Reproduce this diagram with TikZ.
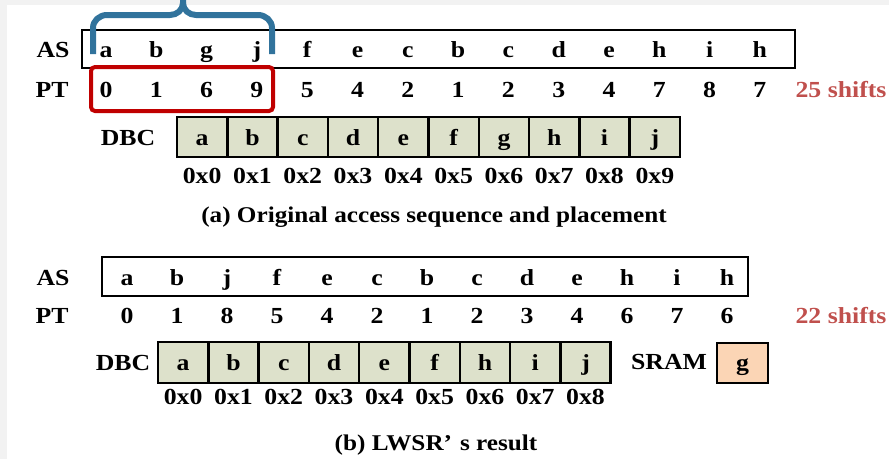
\documentclass[tikz,border=0pt]{standalone}
\usepackage{fontspec}
\setmainfont[FakeStretch=1.12]{Liberation Serif}
\definecolor{cellfill}{HTML}{DDE1CB}
\definecolor{sramfill}{HTML}{FBD5B5}
\definecolor{shiftred}{HTML}{C0504D}
\definecolor{boxred}{HTML}{C00000}
\definecolor{braceblue}{HTML}{31739C}
\definecolor{margin}{HTML}{F2F2F2}
\tikzset{
  txt/.style={font=\bfseries\fontsize{23}{23}\selectfont, inner sep=0pt, anchor=base},
  captxt/.style={font=\bfseries\fontsize{22.5}{22.5}\selectfont, inner sep=0pt, anchor=base},
  seqbox/.style={draw=black, line width=2.5pt},
  cellbox/.style={draw=black, line width=2.5pt, fill=cellfill},
  srambox/.style={draw=black, line width=2.5pt, fill=sramfill},
  redbox/.style={draw=boxred, line width=4pt, rounded corners=4pt},
  brace/.style={draw=braceblue, line width=6pt, line join=round},
}
\begin{document}
\begin{tikzpicture}[x=1pt,y=-1pt]
\useasboundingbox (0,0) rectangle (889,459);
\fill[margin] (0,0) rectangle (889,5);
\fill[margin] (0,0) rectangle (7,459);
% ---------- (a) ----------
\node[seqbox, minimum width=713pt, minimum height=38pt, inner sep=0pt] (asboxa) at (438.5,49) {};
\node[txt] (asa) at (53,57) {AS};
\node[txt] (pta) at (52,97) {PT};
\foreach \l [count=\i from 0] in {a,b,g,j,f,e,c,b,c,d,e,h,i,h}
  \node[txt] (as-a-\i) at ({106+50.3*\i},57) {\l};
\foreach \l [count=\i from 0] in {0,1,6,9,5,4,2,1,2,3,4,7,8,7}
  \node[txt] (pt-a-\i) at ({106+50.3*\i},97) {\l};
\node[txt, text=shiftred] (shifta) at (841,97) {25 shifts};
\node[redbox, minimum width=182pt, minimum height=44pt, inner sep=0pt] (redsel) at (182,89) {};
\node[txt] (dbca) at (128,145) {DBC};
\foreach \l [count=\i from 0] in {a,b,c,d,e,f,g,h,i,j} {
  \node[cellbox, minimum width=50.3pt, minimum height=40pt, inner sep=0pt] (c-a-\i) at ({202.15+50.3*\i},137) {};
  \node[txt] (cl-a-\i) at ({202.15+50.3*\i},145) {\l};
  \node[txt] (ad-a-\i) at ({202.15+50.3*\i},183) {0x\i};
}
\node[captxt] (capa) at (434,222) {(a) Original access sequence and placement};
% brace
\draw[brace] (93,54) -- (93,28) to[out=90,in=180] (107,15) -- (170,15)
  to[out=0,in=-90] (183,3) -- (183,-4);
\draw[brace] (272,54) -- (272,28) to[out=90,in=0] (258,15) -- (196,15)
  to[out=180,in=-90] (183,3);
% ---------- (b) ----------
\node[seqbox, minimum width=646pt, minimum height=39pt, inner sep=0pt] (asboxb) at (425,276.5) {};
\node[txt] (asb) at (53,285) {AS};
\node[txt] (ptb) at (52,323) {PT};
\foreach \l [count=\i from 0] in {a,b,j,f,e,c,b,c,d,e,h,i,h}
  \node[txt] (as-b-\i) at ({127+50*\i},285) {\l};
\foreach \l [count=\i from 0] in {0,1,8,5,4,2,1,2,3,4,6,7,6}
  \node[txt] (pt-b-\i) at ({127+50*\i},323) {\l};
\node[txt, text=shiftred] (shiftb) at (841,323) {22 shifts};
\node[txt] (dbcb) at (123,370) {DBC};
\foreach \l [count=\i from 0] in {a,b,c,d,e,f,h,i,j} {
  \node[cellbox, minimum width=50.3pt, minimum height=41pt, inner sep=0pt] (c-b-\i) at ({183.15+50.3*\i},362.5) {};
  \node[txt] (cl-b-\i) at ({183.15+50.3*\i},370) {\l};
  \node[txt] (ad-b-\i) at ({183.15+50.3*\i},404) {0x\i};
}
\node[txt] (sram) at (669,369) {SRAM};
\node[srambox, minimum width=51pt, minimum height=40pt, inner sep=0pt] (sramcell) at (742.5,363) {};
\node[txt] (sramg) at (742.5,370) {g};
\node[captxt] (capb) at (436,450) {(b) LWSR’\hspace{8pt}s result};
\end{tikzpicture}
\end{document}
